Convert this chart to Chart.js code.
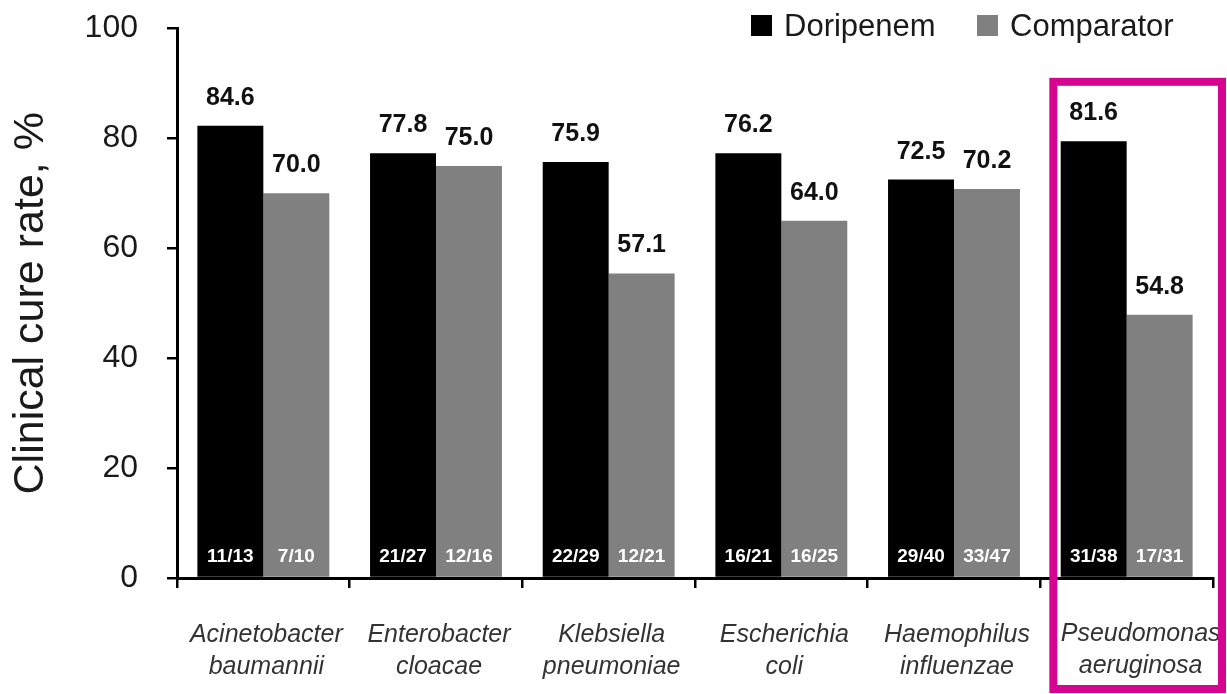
<!DOCTYPE html>
<html>
<head>
<meta charset="utf-8">
<script src="https://cdn.jsdelivr.net/npm/chart.js@4/dist/chart.umd.min.js"></script>
<style>
  html, body { margin: 0; padding: 0; background: #fff; }
  #wrap { width: 1227px; height: 694px; position: relative; }
</style>
</head>
<body>
<div id="wrap"><canvas id="canvas1"></canvas></div>
<script>
var FONT = "'Liberation Sans', Arial, sans-serif";

var categories = [
    ['Acinetobacter', 'baumannii'],
    ['Enterobacter', 'cloacae'],
    ['Klebsiella', 'pneumoniae'],
    ['Escherichia', 'coli'],
    ['Haemophilus', 'influenzae'],
    ['Pseudomonas', 'aeruginosa']
];

// bar heights as drawn in the picture
var doripenemBars = [82.3, 77.3, 75.7, 77.3, 72.5, 79.5];
var comparatorBars = [70.0, 75.0, 55.4, 65.0, 70.8, 47.9];

// printed value labels
var doripenemLabels = ['84.6', '77.8', '75.9', '76.2', '72.5', '81.6'];
var comparatorLabels = ['70.0', '75.0', '57.1', '64.0', '70.2', '54.8'];

// patient counts at the bar bottoms
var doripenemCounts = ['11/13', '21/27', '22/29', '16/21', '29/40', '31/38'];
var comparatorCounts = ['7/10', '12/16', '12/21', '16/25', '33/47', '17/31'];

var yTicks = [0, 20, 40, 60, 80, 100];

var HIGHLIGHT = categories.length - 1;
var X_FONT = 'italic 25px ' + FONT;

var labelsPlugin = {
    id: 'barLabels',
    afterDatasetsDraw: function(chart) {
        var ctx = chart.ctx;
        var bottom = chart.chartArea.bottom;
        var tops = [doripenemLabels, comparatorLabels];
        var counts = [doripenemCounts, comparatorCounts];
        ctx.save();
        ctx.textAlign = 'center';
        ctx.textBaseline = 'middle';
        chart.data.datasets.forEach(function(ds, di) {
            chart.getDatasetMeta(di).data.forEach(function(bar, i) {
                ctx.fillStyle = '#111';
                ctx.font = 'bold 25px ' + FONT;
                ctx.fillText(tops[di][i], bar.x, bar.y - 28);
                ctx.fillStyle = '#fff';
                ctx.font = 'bold 19px ' + FONT;
                ctx.fillText(counts[di][i], bar.x, bottom - 21);
            });
        });
        ctx.restore();
    }
};

var legendPlugin = {
    id: 'topLegend',
    afterDraw: function(chart) {
        var ctx = chart.ctx;
        var xs = [751, 977];
        ctx.save();
        ctx.font = '31px ' + FONT;
        ctx.textBaseline = 'middle';
        ctx.textAlign = 'left';
        chart.data.datasets.forEach(function(ds, di) {
            ctx.fillStyle = ds.backgroundColor;
            ctx.fillRect(xs[di], 15, 21, 21);
            ctx.fillStyle = '#1a1a1a';
            ctx.fillText(ds.label, xs[di] + 33, 27);
        });
        ctx.restore();
    }
};

// boxed last category: its axis label is nudged right to sit inside the box
var highlightPlugin = {
    id: 'highlight',
    afterDraw: function(chart) {
        var x = chart.scales.x, y = chart.scales.y;
        var catW = (x.right - x.left) / categories.length;
        var cx = x.getPixelForValue(HIGHLIGHT);
        var left = cx - catW / 2 + 13;
        var right = cx + catW / 2 + 9;
        var top = y.getPixelForValue(90.3);
        var bottom = chart.height - 5;
        var ctx = chart.ctx;
        ctx.save();
        ctx.fillStyle = '#333';
        ctx.font = X_FONT;
        ctx.textAlign = 'center';
        ctx.textBaseline = 'middle';
        categories[HIGHLIGHT].forEach(function(line, i) {
            ctx.fillText(line, cx + 14, x.bottom - 60 + i * 32);
        });
        ctx.strokeStyle = '#d6058f';
        ctx.lineWidth = 8;
        ctx.strokeRect(left, top, right - left, bottom - top);
        ctx.restore();
    }
};

var config1 = {
    type: 'bar',
    data: {
        labels: categories,
        datasets: [{
            label: 'Doripenem',
            data: doripenemBars,
            backgroundColor: '#000000'
        }, {
            label: 'Comparator',
            data: comparatorBars,
            backgroundColor: '#808080'
        }]
    },
    options: {
        responsive: false,
        animation: false,
        layout: {
            autoPadding: false,
            padding: { top: 28.5, right: 14, left: 0, bottom: 0 }
        },
        datasets: {
            bar: {
                categoryPercentage: 0.764,
                barPercentage: 1.0
            }
        },
        plugins: {
            legend: { display: false },
            tooltip: { enabled: false }
        },
        scales: {
            x: {
                grid: {
                    display: true,
                    drawOnChartArea: false,
                    drawTicks: true,
                    tickLength: 10,
                    tickColor: '#000',
                    lineWidth: 2.5,
                    offset: true
                },
                border: { display: true, color: '#000', width: 3 },
                ticks: {
                    color: '#333',
                    padding: 31,
                    maxRotation: 0,
                    autoSkip: false,
                    labelOffset: 3,
                    font: { family: FONT, size: 25, style: 'italic', lineHeight: 1.28 },
                    callback: function(value, index) {
                        return index === HIGHLIGHT ? '' : categories[index];
                    }
                },
                afterFit: function(scale) { scale.height = 116; }
            },
            y: {
                min: 0,
                max: 100,
                afterBuildTicks: function(scale) {
                    scale.ticks = yTicks.map(function(v) { return { value: v }; });
                },
                grid: {
                    display: true,
                    drawOnChartArea: false,
                    drawTicks: true,
                    tickLength: 10,
                    tickColor: '#000',
                    lineWidth: 2.5
                },
                border: { display: true, color: '#000', width: 3 },
                ticks: {
                    color: '#1a1a1a',
                    padding: 29,
                    font: { family: FONT, size: 32 }
                },
                title: {
                    display: true,
                    text: 'Clinical cure rate, %',
                    color: '#1a1a1a',
                    padding: { top: 5, bottom: 0 },
                    font: { family: FONT, size: 43 }
                },
                afterFit: function(scale) {
                    scale.width = 177;
                    // the tick padding would otherwise push the plot top down
                    scale.paddingTop = 0;
                    scale.paddingBottom = 0;
                }
            }
        }
    },
    plugins: [labelsPlugin, legendPlugin, highlightPlugin]
};

function loadBarChart() {
    var canvas = document.getElementById('canvas1');
    canvas.width = 1227;
    canvas.height = 694;
    var ctx = canvas.getContext('2d');
    window.myBar = new Chart(ctx, config1);
}
loadBarChart();
</script>
</body>
</html>
